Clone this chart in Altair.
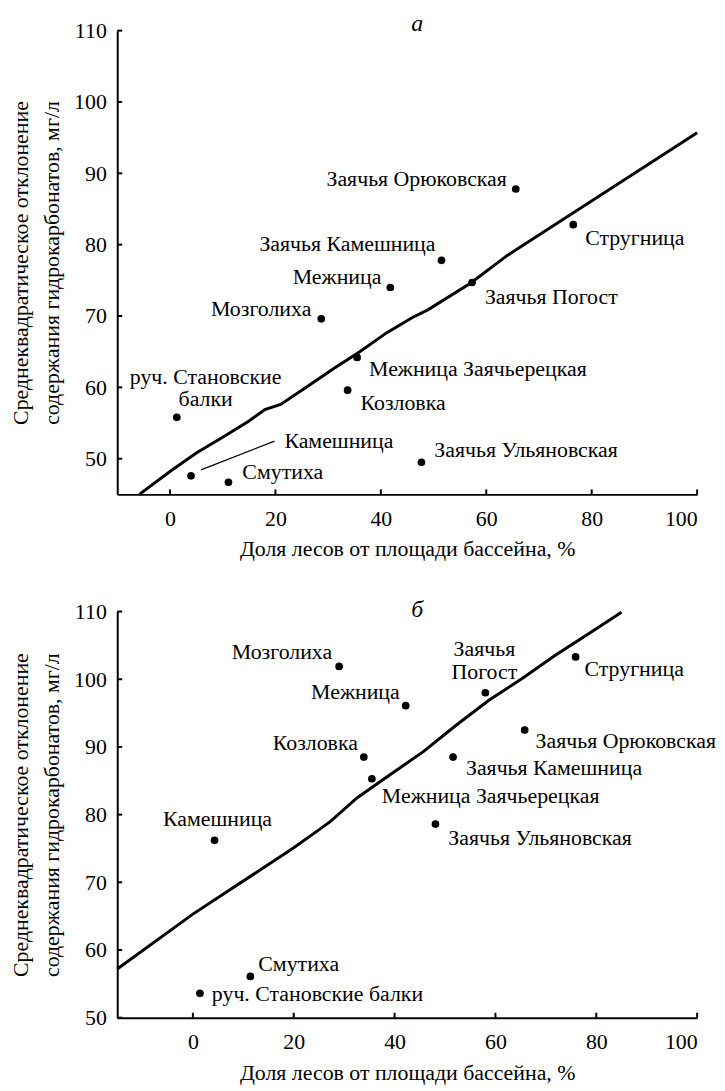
import altair as alt
import pandas as pd

FONT = "Liberation Serif, Tinos, Times New Roman, Noto Serif, DejaVu Serif, serif"

# ---------- panel а ----------
names_a = ["Заячья Орюковская", "Стругница", "Заячья Камешница", "Заячья Погост",
           "Межница", "Мозголиха", "Межница Заячьерецкая", "Козловка",
           "руч. Становские\nбалки", "Камешница", "Смутиха", "Заячья Ульяновская"]
forest_a = [65.6, 76.5, 51.5, 57.3, 41.8, 28.7, 35.5, 33.7, 1.3, 4.0, 11.1, 47.7]
sd_a = [87.8, 82.8, 77.8, 74.7, 74.0, 69.6, 64.2, 59.6, 55.8, 47.6, 46.7, 49.5]

line_a_x = [-5.8, 0, 5, 10, 15, 18, 21, 26, 31, 33.5, 36, 41, 46, 49, 57, 64, 100]
line_a_y = [45.0, 48.2, 50.8, 53.0, 55.3, 56.9, 57.6, 60.1, 62.6, 63.8, 65.0, 67.6, 69.8, 70.9, 74.6, 78.5, 95.7]

# ---------- panel б ----------
names_b = ["Мозголиха", "Межница", "Заячья\nПогост", "Стругница", "Заячья Орюковская",
           "Заячья Камешница", "Козловка", "Межница Заячьерецкая", "Заячья Ульяновская",
           "Камешница", "Смутиха", "руч. Становские балки"]
forest_b = [29.0, 42.2, 58.0, 75.9, 65.8, 51.6, 33.9, 35.5, 48.1, 4.3, 11.4, 1.4]
sd_b = [101.9, 96.1, 98.0, 103.3, 92.5, 88.5, 88.5, 85.3, 78.6, 76.2, 56.1, 53.6]

line_b_x = [-15, 0, 20, 24.7, 27.3, 32.6, 39.1, 45.7, 52.2, 58.7, 65.3, 71.8, 78.4, 85]
line_b_y = [57.2, 65.3, 75.1, 77.6, 79.0, 82.5, 85.9, 89.3, 93.2, 96.9, 100.1, 103.5, 106.7, 109.9]

x_ticks = [0, 20, 40, 60, 80, 100]
y_ticks = [50, 60, 70, 80, 90, 100, 110]

panel_letters = ["а", "б"]

# label placement (align, dx, dy) – styling only
style_a = [("right", -9, -3), ("left", 12, 20), ("right", -6, -9), ("left", 13, 22),
           ("right", -9, -4), ("right", -10, -3), ("left", 12, 19), ("left", 13, 20),
           ("center", 29, -34), ("left", 94, -28), ("left", 14, -3), ("left", 13, -5)]
style_b = [("right", -7, -7), ("right", -6, -7), ("center", -1, -37), ("left", 9, 19),
           ("left", 11, 18), ("left", 13, 18), ("right", -6, -7), ("left", 10, 24),
           ("left", 13, 21), ("center", 3, -14), ("left", 8, -5), ("left", 12, 8)]

W = 584
H_A = 467
H_B = 409


def panel(names, xs, ys, lx, ly, styles, xdom, ydom, H, letter, letter_y, leader=None):
    axis_common = dict(domainColor="black", domainWidth=2, ticks=False, grid=False,
                       labelFont=FONT, labelFontSize=22, labelColor="black",
                       titleFont=FONT, titleFontSize=22, titleFontWeight="normal",
                       titleColor="black")
    x_enc = alt.X("x:Q", scale=alt.Scale(domain=xdom, nice=False, zero=False),
                  axis=alt.Axis(values=x_ticks, title="Доля лесов от площади бассейна, %",
                                labelPadding=14, titlePadding=10, **axis_common))
    y_enc = alt.Y("y:Q", scale=alt.Scale(domain=ydom, nice=False, zero=False),
                  axis=alt.Axis(values=y_ticks,
                                title=["Среднеквадратическое отклонение",
                                       "содержания гидрокарбонатов, мг/л"],
                                titleLineHeight=31, labelPadding=11, titlePadding=10,
                                **axis_common))

    pts = pd.DataFrame({"name": names, "x": xs, "y": ys})
    line_df = pd.DataFrame({"x": lx, "y": ly})
    xt = pd.DataFrame({"x": x_ticks})
    yt = pd.DataFrame({"y": y_ticks})
    let_df = pd.DataFrame({"t": [letter]})

    layers = [
        alt.Chart(line_df).mark_line(color="black", strokeWidth=3).encode(
            x=x_enc, y=y_enc, order=alt.Order("x:Q")),
        alt.Chart(xt).mark_rule(color="black", strokeWidth=2).encode(
            x=x_enc, y=alt.value(H), y2=alt.value(H - 5)),
        alt.Chart(yt).mark_rule(color="black", strokeWidth=2).encode(
            y=y_enc, x=alt.value(0), x2=alt.value(5)),
        alt.Chart(pts).mark_circle(color="black", opacity=1, size=60).encode(x=x_enc, y=y_enc),
        alt.Chart(let_df).mark_text(font=FONT, fontStyle="italic", fontSize=24,
                                    baseline="alphabetic", align="center", color="black").encode(
            text="t:N", x=alt.value(W / 2 + 10), y=alt.value(letter_y)),
    ]
    for i, (al, dx, dy) in enumerate(styles):
        one = pts.iloc[[i]]
        layers.append(
            alt.Chart(one).mark_text(align=al, dx=dx, dy=dy, baseline="alphabetic",
                                     font=FONT, fontSize=22, color="black",
                                     lineBreak="\n", lineHeight=23).encode(
                x=x_enc, y=y_enc, text="name:N"))
    if leader is not None:
        i, ox1, oy1, ox2, oy2 = leader
        one = pts.iloc[[i]]
        layers.append(
            alt.Chart(one).mark_rule(color="black", strokeWidth=1.2, xOffset=ox1, yOffset=oy1,
                                     x2Offset=ox2, y2Offset=oy2).encode(
                x=x_enc, y=y_enc, x2=alt.X2("x"), y2=alt.Y2("y")))
    return alt.layer(*layers).properties(width=W, height=H)


top = panel(names_a, forest_a, sd_a, line_a_x, line_a_y, style_a, [-10, 100], [45, 110],
            H_A, panel_letters[0], 0, leader=(9, 10, -6, 84, -35))
bottom = panel(names_b, forest_b, sd_b, line_b_x, line_b_y, style_b, [-15, 100], [50, 110],
               H_B, panel_letters[1], 5)

chart = alt.vconcat(top, bottom, spacing=38).properties(
    padding={"left": 2, "top": 0, "right": 0, "bottom": 0}
).configure_view(stroke=None)

chart.save("out.html", embed_options={"renderer": "svg", "actions": False})
